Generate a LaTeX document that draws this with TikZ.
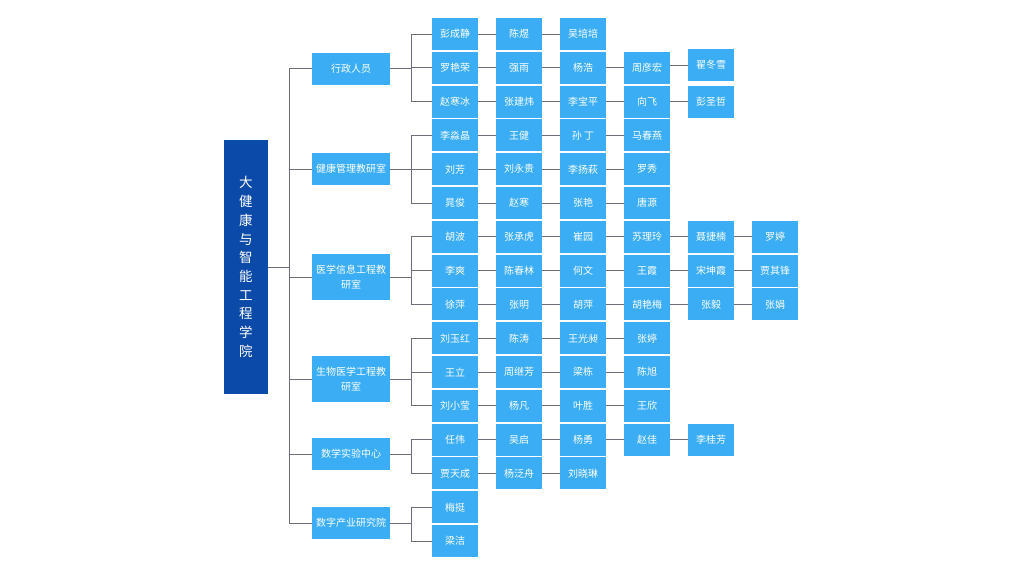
\documentclass[tikz,border=0pt]{standalone}
\usepackage{fontspec}
\newfontfamily\cjk{Noto Sans CJK SC}
\definecolor{leafblue}{RGB}{58,173,245}
\definecolor{rootblue}{RGB}{11,74,168}
\definecolor{linegray}{RGB}{110,110,122}
\begin{document}
\begin{tikzpicture}[x=1pt,y=-1pt,
  leaf/.style={fill=leafblue,text=white,minimum width=46pt,minimum height=32pt,inner sep=0pt,font=\cjk\fontsize{10}{12}\selectfont},
  dept/.style={fill=leafblue,text=white,minimum width=78pt,minimum height=32pt,inner sep=0pt,align=center,font=\cjk\fontsize{10}{15}\selectfont},
  rootbox/.style={fill=rootblue,text=white,minimum width=43.7pt,minimum height=254pt,inner sep=0pt,align=center,font=\cjk\fontsize{13.5}{18.7}\selectfont},
  conn/.style={draw=linegray,line width=0.9pt}]
\useasboundingbox (0,0) rectangle (1024,576);
% root
\node[rootbox] (root) at (245.8,267) {大\\健\\康\\与\\智\\能\\工\\程\\学\\院};
% departments
\node[dept] (d1) at (351,68.7) {行政人员};
\node[dept] (d2) at (351,169) {健康管理教研室};
\node[dept,minimum height=46pt] (d3) at (351,277) {医学信息工程教\\研室};
\node[dept,minimum height=46pt] (d4) at (351,379) {生物医学工程教\\研室};
\node[dept] (d5) at (351,454) {数学实验中心};
\node[dept] (d6) at (351,523) {数字产业研究院};
% leaves
\node[leaf] (n-1-1) at (455,34) {彭成静};
\node[leaf] (n-1-2) at (519,34) {陈煜};
\node[leaf] (n-1-3) at (583,34) {吴培培};
\node[leaf] (n-2-1) at (455,67.8) {罗艳荣};
\node[leaf] (n-2-2) at (519,67.8) {强雨};
\node[leaf] (n-2-3) at (583,67.8) {杨浩};
\node[leaf] (n-2-4) at (647,67.8) {周彦宏};
\node[leaf] (n-2-5) at (711,65) {翟冬雪};
\node[leaf] (n-3-1) at (455,101.6) {赵寒冰};
\node[leaf] (n-3-2) at (519,101.6) {张建炜};
\node[leaf] (n-3-3) at (583,101.6) {李宝平};
\node[leaf] (n-3-4) at (647,101.6) {向飞};
\node[leaf] (n-3-5) at (711,101.6) {彭圣哲};
\node[leaf] (n-4-1) at (455,135.4) {李淼晶};
\node[leaf] (n-4-2) at (519,135.4) {王健};
\node[leaf] (n-4-3) at (583,135.4) {孙 丁};
\node[leaf] (n-4-4) at (647,135.4) {马春燕};
\node[leaf] (n-5-1) at (455,169.2) {刘芳};
\node[leaf] (n-5-2) at (519,169.2) {刘永贵};
\node[leaf] (n-5-3) at (583,169.2) {李扬萩};
\node[leaf] (n-5-4) at (647,169.2) {罗秀};
\node[leaf] (n-6-1) at (455,203) {晁俊};
\node[leaf] (n-6-2) at (519,203) {赵寒};
\node[leaf] (n-6-3) at (583,203) {张艳};
\node[leaf] (n-6-4) at (647,203) {唐源};
\node[leaf] (n-7-1) at (455,236.8) {胡波};
\node[leaf] (n-7-2) at (519,236.8) {张承虎};
\node[leaf] (n-7-3) at (583,236.8) {崔园};
\node[leaf] (n-7-4) at (647,236.8) {苏理玲};
\node[leaf] (n-7-5) at (711,236.8) {聂捷楠};
\node[leaf] (n-7-6) at (775,236.8) {罗婷};
\node[leaf] (n-8-1) at (455,270.6) {李爽};
\node[leaf] (n-8-2) at (519,270.6) {陈春林};
\node[leaf] (n-8-3) at (583,270.6) {何文};
\node[leaf] (n-8-4) at (647,270.6) {王霞};
\node[leaf] (n-8-5) at (711,270.6) {宋坤霞};
\node[leaf] (n-8-6) at (775,270.6) {贾其锋};
\node[leaf] (n-9-1) at (455,304.4) {徐萍};
\node[leaf] (n-9-2) at (519,304.4) {张明};
\node[leaf] (n-9-3) at (583,304.4) {胡萍};
\node[leaf] (n-9-4) at (647,304.4) {胡艳梅};
\node[leaf] (n-9-5) at (711,304.4) {张毅};
\node[leaf] (n-9-6) at (775,304.4) {张娟};
\node[leaf] (n-10-1) at (455,338.2) {刘玉红};
\node[leaf] (n-10-2) at (519,338.2) {陈涛};
\node[leaf] (n-10-3) at (583,338.2) {王光昶};
\node[leaf] (n-10-4) at (647,338.2) {张婷};
\node[leaf] (n-11-1) at (455,372) {王立};
\node[leaf] (n-11-2) at (519,372) {周继芳};
\node[leaf] (n-11-3) at (583,372) {梁栋};
\node[leaf] (n-11-4) at (647,372) {陈旭};
\node[leaf] (n-12-1) at (455,405.8) {刘小莹};
\node[leaf] (n-12-2) at (519,405.8) {杨凡};
\node[leaf] (n-12-3) at (583,405.8) {叶胜};
\node[leaf] (n-12-4) at (647,405.8) {王欣};
\node[leaf] (n-13-1) at (455,439.6) {任伟};
\node[leaf] (n-13-2) at (519,439.6) {吴启};
\node[leaf] (n-13-3) at (583,439.6) {杨勇};
\node[leaf] (n-13-4) at (647,439.6) {赵佳};
\node[leaf] (n-13-5) at (711,439.6) {李桂芳};
\node[leaf] (n-14-1) at (455,473.4) {贾天成};
\node[leaf] (n-14-2) at (519,473.4) {杨泛舟};
\node[leaf] (n-14-3) at (583,473.4) {刘晓琳};
\node[leaf] (n-15-1) at (455,507.2) {梅挺};
\node[leaf] (n-16-1) at (455,541) {梁洁};
% trunk
\coordinate (tr) at (289,267);
\draw[conn] (root.east) -- (tr);
\foreach \d in {1,...,6} \draw[conn] (tr) |- (d\d.west);
% buses
\foreach \d/\y/\rows in {1/68.7/{1,2,3},2/169/{4,5,6},3/277/{7,8,9},4/379/{10,11,12},5/454/{13,14},6/523/{15,16}}{
  \coordinate (b\d) at (411,\y);
  \draw[conn] (d\d.east) -- (b\d);
  \foreach \r in \rows \draw[conn] (b\d) |- (n-\r-1.west);
}
% row chains
\foreach \r/\n in {1/3,2/4,3/5,4/4,5/4,6/4,7/6,8/6,9/6,10/4,11/4,12/4,13/5,14/3}{
  \foreach \c [evaluate=\c as \p using int(\c-1)] in {2,...,\n}
    \draw[conn] (n-\r-\p.east) -- (n-\r-\c.west);
}
\draw[conn] (n-2-4.east |- n-2-5.west) -- (n-2-5.west);
\end{tikzpicture}
\end{document}
